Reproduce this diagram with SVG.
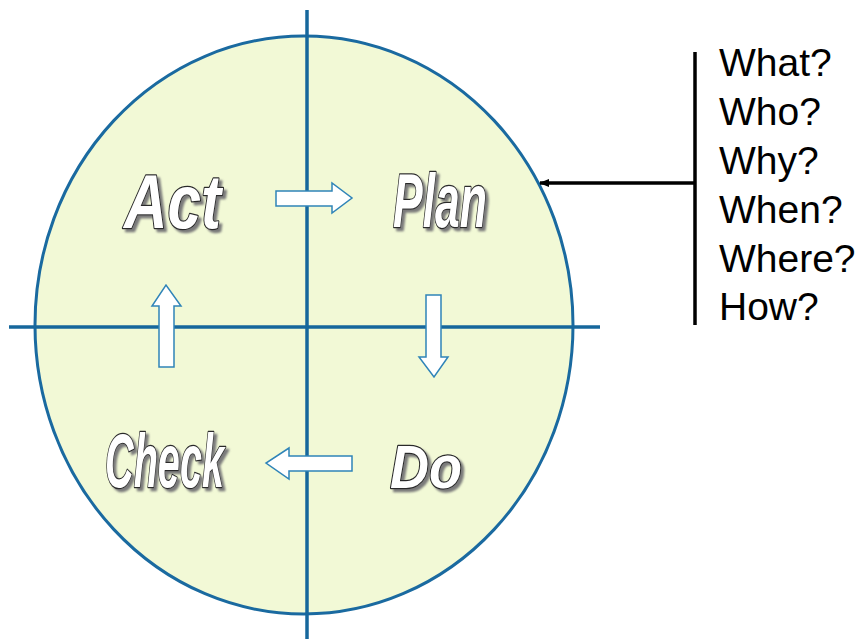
<svg xmlns="http://www.w3.org/2000/svg" width="867" height="639" viewBox="0 0 867 639">
<defs>
<style>
.axis{stroke:#16679c;stroke-width:3.5;fill:none}
.flow{fill:#ffffff;stroke:#2f84b8;stroke-width:1.5;stroke-linejoin:miter}
.word{font-family:"Liberation Sans",Arial,sans-serif;font-weight:bold;font-style:italic;fill:#ffffff;stroke:#2b2b2b;stroke-width:2.4;paint-order:stroke;stroke-linejoin:round;filter:url(#sh)}
.q{font-family:"Liberation Sans",Arial,sans-serif;font-size:39px;fill:#000}
.conn{stroke:#000;stroke-width:3.5;fill:none}
</style>
<filter id="sh" x="-10%" y="-10%" width="130%" height="130%">
<feDropShadow dx="3" dy="3" stdDeviation="0.8" flood-color="#7a7a7a" flood-opacity="1"/>
</filter>
<marker id="ah" markerWidth="10" markerHeight="10" refX="9" refY="5" orient="auto" markerUnits="userSpaceOnUse" viewBox="0 0 10 10">
<path d="M0,1 L10,5 L0,9 z" fill="#000"/>
</marker>
</defs>
<rect width="867" height="639" fill="#ffffff"/>
<g id="cycle">
<ellipse cx="304" cy="325" rx="269" ry="289" fill="#f2f9d6" stroke="#1a6aa0" stroke-width="3"/>
<line class="axis" x1="9" y1="327" x2="600" y2="327"/>
<line class="axis" x1="307" y1="10" x2="307" y2="639"/>
</g>
<g id="connectors">
<path class="flow" d="M276,191 H332 V183 L352,198 L332,213 V206 H276 Z"/>
<path class="flow" d="M426,295 H441 V357 H448 L434,377 L419,357 H426 Z"/>
<path class="flow" d="M352,456 V471 H289 V479 L266,463 L289,448 V456 Z"/>
<path class="flow" d="M159,367 V306 H152 L166,285 L181,306 H174 V367 Z"/>
<line class="conn" x1="695" y1="52" x2="695" y2="325"/>
<line class="conn" x1="695" y1="183" x2="540" y2="183" marker-end="url(#ah)"/>
</g>
<g id="act">
<text class="word" x="124" y="228" font-size="76" textLength="97" lengthAdjust="spacingAndGlyphs">Act</text>
</g>
<g id="plan">
<text class="word" x="393" y="227" font-size="76" textLength="94" lengthAdjust="spacingAndGlyphs">Plan</text>
</g>
<g id="check">
<text class="word" x="105" y="487" font-size="76" textLength="119" lengthAdjust="spacingAndGlyphs">Check</text>
</g>
<g id="do">
<text class="word" x="390" y="488" font-size="62" textLength="72" lengthAdjust="spacingAndGlyphs">Do</text>
</g>
<g id="questions">
<text class="q" x="719" y="76">What?</text>
<text class="q" x="719" y="125">Who?</text>
<text class="q" x="719" y="174">Why?</text>
<text class="q" x="719" y="223">When?</text>
<text class="q" x="719" y="272">Where?</text>
<text class="q" x="719" y="320">How?</text>
</g>
</svg>
